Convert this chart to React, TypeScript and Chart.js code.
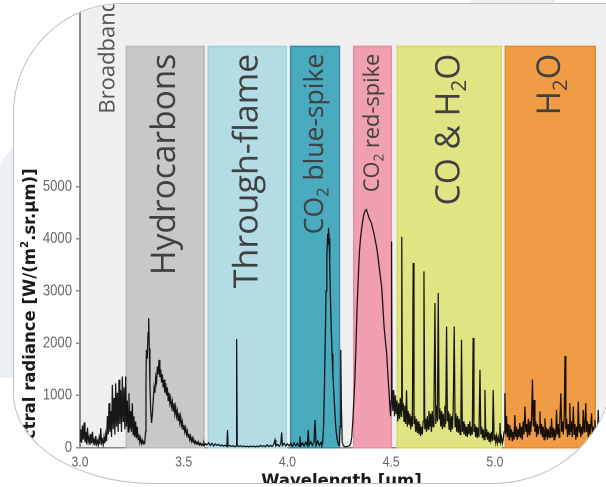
import React, { useEffect, useRef } from 'react';
import { Chart, registerables } from 'chart.js';
Chart.register(...registerables);

// ---- spectrum: [wavelength um, radiance W/(m2.sr.um)] ----
const broadbandSpectrum: number[][] = [
  [3.000,120],[3.004,350],[3.008,90],[3.012,420],[3.016,150],[3.020,480],[3.024,100],[3.028,300],[3.032,60],[3.036,380],
  [3.040,120],[3.044,200],[3.048,50],[3.052,260],[3.056,80],[3.060,300],[3.064,90],[3.068,150],[3.072,40],[3.076,220],
  [3.080,70],[3.084,130],[3.088,40],[3.092,180],[3.096,60],[3.100,370],[3.104,90],[3.108,150],[3.112,50],[3.116,200],
  [3.120,80],[3.124,260],[3.128,120],[3.132,600],[3.136,250],[3.140,850],[3.144,300],[3.148,700],[3.152,200],[3.156,1200],
  [3.160,350],[3.164,950],[3.168,250],[3.172,1230],[3.176,400],[3.180,1050],[3.184,300],[3.188,1300],[3.192,450],[3.196,1100],
  [3.200,300],[3.204,1360],[3.208,500],[3.212,1150],[3.216,350],[3.220,1360],[3.224,400],[3.228,900],[3.232,300],[3.236,1040],
  [3.240,350],[3.244,700],[3.248,300],[3.252,850],[3.256,250],[3.260,600],[3.264,200],[3.268,500],[3.272,180],[3.276,400],
  [3.280,150],[3.284,250],[3.288,100],[3.292,180],[3.296,80],[3.300,140],[3.304,70],[3.308,110],[3.312,90],
];
const hydrocarbonSpectrum: number[][] = [
  [3.316,300],[3.318,1200],[3.320,1870],[3.324,1700],[3.328,2200],[3.331,2480],[3.334,1900],[3.337,1200],[3.341,700],[3.345,470],
  [3.349,650],[3.353,900],[3.357,1150],[3.361,1050],[3.365,1350],[3.369,1250],[3.373,1550],[3.377,1400],[3.381,1680],[3.385,1350],
  [3.389,1500],[3.393,1250],[3.397,1400],[3.401,1150],[3.405,1300],[3.409,1050],[3.413,1230],[3.417,1000],[3.421,1150],[3.425,900],
  [3.429,1050],[3.433,850],[3.437,950],[3.441,780],[3.445,880],[3.449,700],[3.453,850],[3.457,650],[3.461,780],[3.465,600],
  [3.469,700],[3.473,520],[3.477,660],[3.481,480],[3.485,600],[3.489,420],[3.493,500],[3.497,350],[3.501,430],[3.505,300],
  [3.509,380],[3.513,250],[3.517,320],[3.521,200],[3.525,260],[3.529,150],[3.533,220],[3.537,120],[3.541,180],[3.545,100],
  [3.549,140],[3.553,80],[3.557,120],[3.561,70],[3.565,100],[3.569,60],[3.573,90],[3.577,50],[3.581,80],[3.585,45],
  [3.589,70],[3.593,40],[3.597,90],[3.601,40],[3.605,70],
];
const throughFlameSpectrum: number[][] = [
  [3.612,50],[3.620,90],[3.628,40],[3.636,80],[3.644,30],[3.652,70],[3.660,40],[3.668,60],[3.676,30],[3.684,50],
  [3.692,25],[3.700,45],[3.708,20],[3.711,335],[3.714,25],[3.722,40],[3.730,20],[3.738,35],[3.746,15],[3.752,30],
  [3.755,2080],[3.758,30],[3.766,20],[3.774,35],[3.782,15],[3.790,30],[3.798,15],[3.806,25],[3.814,10],[3.822,30],
  [3.830,15],[3.838,25],[3.846,10],[3.854,30],[3.862,15],[3.870,40],[3.878,20],[3.886,35],[3.894,15],[3.902,50],
  [3.910,20],[3.918,40],[3.926,20],[3.934,60],[3.940,145],[3.944,30],[3.952,60],[3.960,25],[3.968,70],[3.972,290],
  [3.976,40],[3.984,80],[3.992,30],[4.000,70],
];
const blueSpikeSpectrum: number[][] = [
  [4.008,30],[4.016,80],[4.024,20],[4.032,90],[4.040,30],[4.048,80],[4.056,25],[4.060,210],[4.064,30],[4.072,90],
  [4.080,30],[4.088,100],[4.096,40],[4.100,335],[4.104,40],[4.112,110],[4.120,40],[4.128,100],[4.133,530],[4.138,40],
  [4.146,120],[4.154,40],[4.162,100],[4.166,50],[4.170,100],[4.174,400],[4.178,1100],[4.182,2000],[4.186,3000],[4.190,3700],
  [4.194,4100],[4.196,3900],[4.198,4210],[4.201,4000],[4.204,3500],[4.207,2900],[4.211,2300],[4.215,1800],[4.219,1400],[4.223,1100],
  [4.227,800],[4.231,500],[4.235,300],[4.240,150],[4.245,60],[4.250,40],[4.254,400],[4.257,1870],[4.260,800],[4.264,100],
  [4.270,30],[4.278,15],[4.286,20],[4.294,25],[4.298,35],
];
const redSpikeSpectrum: number[][] = [
  [4.300,40],[4.305,80],[4.310,200],[4.315,500],[4.320,900],[4.325,1300],[4.330,1900],[4.335,2600],[4.341,3215],[4.347,3750],
  [4.352,4000],[4.357,4175],[4.363,4350],[4.369,4480],[4.375,4540],[4.381,4560],[4.387,4480],[4.393,4400],[4.399,4350],[4.405,4300],
  [4.411,4200],[4.417,4100],[4.423,3980],[4.429,3855],[4.435,3700],[4.441,3500],[4.447,3300],[4.454,3085],[4.460,2700],[4.466,2300],
  [4.472,2050],[4.478,1810],[4.484,1400],[4.489,1100],[4.494,785],[4.497,600],[4.500,900],[4.502,3950],[4.504,1100],
];
const coH2OSpectrum: number[][] = [
  [4.508,700],[4.512,1100],[4.516,600],[4.520,1000],[4.524,650],[4.528,900],[4.532,500],[4.536,850],[4.540,550],[4.544,950],
  [4.548,600],[4.551,4040],[4.554,700],[4.558,850],[4.562,500],[4.566,800],[4.570,450],[4.574,1100],[4.578,400],[4.582,700],
  [4.586,450],[4.590,650],[4.594,350],[4.598,600],[4.602,400],[4.606,3535],[4.610,450],[4.614,600],[4.618,300],[4.622,550],
  [4.626,280],[4.630,500],[4.634,250],[4.638,450],[4.642,220],[4.646,400],[4.650,250],[4.654,500],[4.658,3375],[4.662,350],
  [4.666,550],[4.670,300],[4.674,600],[4.678,350],[4.682,700],[4.686,400],[4.690,650],[4.694,300],[4.698,700],[4.702,400],
  [4.706,650],[4.711,2770],[4.715,450],[4.719,800],[4.723,500],[4.727,2960],[4.731,550],[4.735,750],[4.739,400],[4.743,700],
  [4.747,350],[4.751,650],[4.755,400],[4.759,800],[4.763,450],[4.767,2320],[4.771,500],[4.775,700],[4.779,350],[4.783,650],
  [4.787,300],[4.791,600],[4.795,350],[4.799,700],[4.804,2320],[4.808,400],[4.812,650],[4.816,300],[4.820,600],[4.824,280],
  [4.828,550],[4.832,250],[4.836,500],[4.839,2065],[4.843,300],[4.847,500],[4.851,250],[4.855,450],[4.859,220],[4.863,400],
  [4.867,200],[4.871,450],[4.875,250],[4.879,500],[4.883,220],[4.887,400],[4.891,250],[4.895,2100],[4.899,300],[4.903,450],
  [4.907,200],[4.911,400],[4.915,180],[4.919,380],[4.923,200],[4.928,1490],[4.932,250],[4.936,400],[4.940,180],[4.944,350],
  [4.948,150],[4.952,1105],[4.956,200],[4.960,350],[4.964,150],[4.968,300],[4.972,120],[4.976,280],[4.980,150],[4.984,300],
  [4.988,120],[4.992,1105],[4.996,150],[5.000,250],[5.004,100],[5.008,220],[5.012,90],[5.016,200],[5.020,100],[5.024,470],
  [5.028,120],[5.032,200],[5.036,80],[5.040,150],
];
const h2oSpectrum: number[][] = [
  [5.044,300],[5.048,1040],[5.052,250],[5.056,600],[5.060,200],[5.064,450],[5.068,150],[5.072,430],[5.076,200],[5.080,350],
  [5.084,120],[5.088,300],[5.092,150],[5.096,620],[5.100,200],[5.104,400],[5.108,150],[5.112,350],[5.116,200],[5.120,470],
  [5.124,180],[5.128,400],[5.132,150],[5.136,500],[5.140,250],[5.145,785],[5.149,300],[5.153,450],[5.157,200],[5.161,550],
  [5.165,250],[5.169,500],[5.173,300],[5.177,600],[5.181,1300],[5.185,400],[5.189,910],[5.193,300],[5.197,500],[5.201,200],
  [5.205,450],[5.209,250],[5.213,400],[5.217,690],[5.221,250],[5.225,450],[5.229,200],[5.233,400],[5.237,150],[5.241,560],
  [5.245,200],[5.249,380],[5.253,150],[5.257,350],[5.261,200],[5.265,400],[5.269,180],[5.273,560],[5.277,200],[5.281,380],
  [5.285,150],[5.289,350],[5.293,200],[5.297,720],[5.301,250],[5.305,450],[5.309,200],[5.313,500],[5.318,1040],[5.322,300],
  [5.326,500],[5.330,250],[5.334,600],[5.338,1755],[5.342,350],[5.346,550],[5.350,200],[5.354,450],[5.358,250],[5.361,850],
  [5.365,300],[5.369,500],[5.373,200],[5.378,785],[5.382,250],[5.386,450],[5.390,150],[5.394,400],[5.398,200],[5.402,880],
  [5.406,300],[5.410,450],[5.414,200],[5.418,400],[5.422,250],[5.426,720],[5.430,300],[5.434,450],[5.438,850],[5.442,300],
  [5.446,500],[5.450,200],[5.454,450],[5.458,250],[5.462,400],[5.466,655],[5.470,250],[5.474,400],[5.478,200],[5.482,528],
  [5.486,250],[5.490,400],[5.494,200],[5.498,720],[5.502,300],[5.506,500],[5.510,300],
];

// ---- spectral bands ----
type Part = { t: string; s?: 'sub' | 'sup' };
const bandLabels: Part[][] = [
  [{ t: 'Hydrocarbons' }],
  [{ t: 'Through-flame' }],
  [{ t: 'CO' }, { t: '2', s: 'sub' }, { t: ' blue-spike' }],
  [{ t: 'CO' }, { t: '2', s: 'sub' }, { t: ' red-spike' }],
  [{ t: 'CO & H' }, { t: '2', s: 'sub' }, { t: 'O' }],
  [{ t: 'H' }, { t: '2', s: 'sub' }, { t: 'O' }],
];
const bandStart = [3.220, 3.615, 4.012, 4.316, 4.526, 5.047];
const bandEnd = [3.601, 3.998, 4.254, 4.504, 5.034, 5.487];
const bandTop = 7700;
const broadbandLabel = 'Broadband';
const broadbandAt = [3.135, 6400];

const xTicks = [3.0, 3.5, 4.0, 4.5, 5.0];
const xTickLabels = ['3.0', '3.5', '4.0', '4.5', '5.0'];
const yTicks = [0, 1000, 2000, 3000, 4000, 5000];
const yTickLabels = ['0', '1000', '2000', '3000', '4000', '5000'];
const xRange = [3.0, 5.55];
const yRange = [0, 8500];
const xTitle: Part[] = [{ t: 'Wavelength [um]' }];
const yTitle: Part[] = [{ t: 'Spectral radiance [W/(m' }, { t: '2', s: 'sup' }, { t: '.sr.\u03bcm)]' }];
const yTitleEndAt = 5350;

// ---- styles ----
const bandFill = ['#c8c8cb', '#b3dce5', '#4aaabe', '#f0a0ae', '#e0e482', '#f09c45'];
const bandStroke = ['#b9b9bc', '#a2d3dd', '#3291a7', '#e98ea0', '#d5d964', '#e98a2e'];
const bandFontSize = [33.5, 34, 26.5, 21.8, 33.5, 33];
const labelFamily = "'Open Sans', 'Noto Sans', sans-serif";
const tickFamily = "'Liberation Sans', Arial, sans-serif";
const titleFamily = "'DejaVu Sans', sans-serif";
const axisGray = '#8a8a8a';

function drawRich(ctx: CanvasRenderingContext2D, parts: Part[], size: number, family: string, weight: string,
  align: 'left' | 'right' | 'center', baseline: number) {
  const fonts = parts.map(p => `${weight} ${p.s ? size * 0.62 : size}px ${family}`);
  const widths = parts.map((p, i) => { ctx.font = fonts[i]; return ctx.measureText(p.t).width; });
  const total = widths.reduce((a, b) => a + b, 0);
  let x = align === 'left' ? 0 : align === 'right' ? -total : -total / 2;
  ctx.textBaseline = 'alphabetic';
  ctx.textAlign = 'left';
  parts.forEach((p, i) => {
    ctx.font = fonts[i];
    const dy = p.s === 'sub' ? size * 0.2 : p.s === 'sup' ? -size * 0.42 : 0;
    ctx.fillText(p.t, x, baseline + dy);
    x += widths[i];
  });
}

// narrow tick text (the reference uses a condensed face)
function drawNarrow(ctx: CanvasRenderingContext2D, text: string, x: number, y: number, size: number,
  align: CanvasTextAlign) {
  ctx.save();
  ctx.translate(x, y);
  ctx.scale(0.82, 1);
  ctx.font = `${size}px ${tickFamily}`;
  ctx.textAlign = align;
  ctx.textBaseline = 'middle';
  ctx.fillText(text, 0, 0);
  ctx.restore();
}

const bandPlugin = {
  id: 'bands',
  beforeDraw(chart: any) {
    const { ctx, chartArea: a } = chart;
    ctx.save();
    ctx.fillStyle = '#f0f0f0';
    ctx.fillRect(a.left, a.top, a.right - a.left, a.bottom - a.top);
    ctx.restore();
  },
  beforeDatasetsDraw(chart: any) {
    const { ctx, scales: { x, y } } = chart;
    const yT = y.getPixelForValue(bandTop);
    const yB = y.getPixelForValue(0) + 1;
    ctx.save();
    bandStart.forEach((s, i) => {
      const x0 = x.getPixelForValue(s);
      const x1 = x.getPixelForValue(bandEnd[i]);
      ctx.fillStyle = bandFill[i];
      ctx.fillRect(x0, yT, x1 - x0, yB - yT);
      ctx.strokeStyle = bandStroke[i];
      ctx.lineWidth = 1.5;
      ctx.strokeRect(x0 + 0.75, yT + 0.75, x1 - x0 - 1.5, yB - yT - 1.5);
    });
    ctx.fillStyle = '#404040';
    bandLabels.forEach((parts, i) => {
      const cx = (x.getPixelForValue(bandStart[i]) + x.getPixelForValue(bandEnd[i])) / 2;
      const size = bandFontSize[i];
      ctx.save();
      ctx.translate(cx, yT + 8);
      ctx.rotate(-Math.PI / 2);
      drawRich(ctx, parts, size, labelFamily, '400', 'right', size * 0.3);
      ctx.restore();
    });
    ctx.save();
    ctx.fillStyle = '#555555';
    ctx.translate(x.getPixelForValue(broadbandAt[0]), y.getPixelForValue(broadbandAt[1]));
    ctx.rotate(-Math.PI / 2);
    drawRich(ctx, [{ t: broadbandLabel }], 22, labelFamily, '400', 'left', 22 * 0.3);
    ctx.restore();
    ctx.restore();
  },
  afterDraw(chart: any) {
    const { ctx, chartArea: a, scales: { x, y } } = chart;
    // tick labels
    ctx.save();
    ctx.fillStyle = '#666666';
    yTicks.forEach((v, i) => drawNarrow(ctx, yTickLabels[i], a.left - 8, y.getPixelForValue(v), 16, 'right'));
    xTicks.forEach((v, i) => drawNarrow(ctx, xTickLabels[i], x.getPixelForValue(v), a.bottom + 15, 15, 'center'));
    ctx.restore();
    // axis titles
    ctx.save();
    ctx.fillStyle = '#1a1a1a';
    ctx.translate((a.left + a.right) / 2 - 3, 486);
    drawRich(ctx, xTitle, 16.5, titleFamily, 'bold', 'center', 0);
    ctx.restore();
    ctx.save();
    ctx.fillStyle = '#1a1a1a';
    ctx.translate(35, y.getPixelForValue(yTitleEndAt));
    ctx.rotate(-Math.PI / 2);
    drawRich(ctx, yTitle, 16.5, titleFamily, 'bold', 'right', 0);
    ctx.restore();
  },
};

export default function App() {
  const ref = useRef<HTMLCanvasElement | null>(null);
  useEffect(() => {
    if (!ref.current) return;
    const points = [
      ...broadbandSpectrum, ...hydrocarbonSpectrum, ...throughFlameSpectrum, ...blueSpikeSpectrum,
      ...redSpikeSpectrum, ...coH2OSpectrum, ...h2oSpectrum,
    ].map(([wx, ry]) => ({ x: wx, y: ry }));
    const zeroPad = (s: any) => { s.paddingTop = 0; s.paddingBottom = 0; s.paddingLeft = 0; s.paddingRight = 0; };
    const chart = new Chart(ref.current, {
      type: 'line',
      data: {
        datasets: [{
          data: points as any,
          borderColor: 'rgba(0,0,0,0.9)',
          borderWidth: 1.25,
          pointRadius: 0,
          tension: 0,
          fill: false,
        }],
      },
      options: {
        animation: false,
        responsive: true,
        maintainAspectRatio: false,
        devicePixelRatio: 2,
        events: [],
        layout: { padding: { top: 4, right: 3, left: 0, bottom: 0 } },
        plugins: { legend: { display: false }, tooltip: { enabled: false }, title: { display: false } },
        scales: {
          x: {
            type: 'linear',
            min: xRange[0],
            max: xRange[1],
            afterBuildTicks: (s: any) => { s.ticks = xTicks.map(v => ({ value: v })); },
            afterFit: (s: any) => { s.height = 39.5; zeroPad(s); },
            ticks: { display: false, autoSkip: false },
            grid: { display: false },
            border: { display: true, color: axisGray, width: 1.5 },
          },
          y: {
            min: yRange[0],
            max: yRange[1],
            afterBuildTicks: (s: any) => { s.ticks = yTicks.map(v => ({ value: v })); },
            afterFit: (s: any) => { s.width = 80; zeroPad(s); },
            ticks: { display: false, autoSkip: false },
            grid: { drawOnChartArea: false, drawTicks: true, tickLength: 4, color: axisGray, lineWidth: 1.5 },
            border: { display: true, color: axisGray, width: 2 },
          },
        },
      },
      plugins: [bandPlugin],
    });
    return () => chart.destroy();
  }, []);

  return (
    <div style={{ position: 'absolute', left: 0, top: 0, width: 606, height: 487, overflow: 'hidden', background: '#ffffff' }}>
      <div style={{ position: 'absolute', left: 0, top: 145, width: 14, height: 233, background: '#eef0f5', clipPath: 'polygon(0 18px, 100% 0, 100% 100%, 0 100%)' }} />
      <div style={{ position: 'absolute', left: 470, top: 0, width: 85, height: 3, background: '#eeeeee' }} />
      <div style={{
        position: 'absolute', left: 13, top: 3, width: 599, height: 481, boxSizing: 'border-box',
        border: '1px solid #b4c3c7', background: '#ffffff', overflow: 'hidden',
        borderRadius: '110px 0 120px 140px / 110px 0 110px 90px',
      }}>
        <div style={{ position: 'absolute', left: -14, top: -4, width: 612, height: 487 }}>
          <canvas ref={ref} />
        </div>
      </div>
    </div>
  );
}
